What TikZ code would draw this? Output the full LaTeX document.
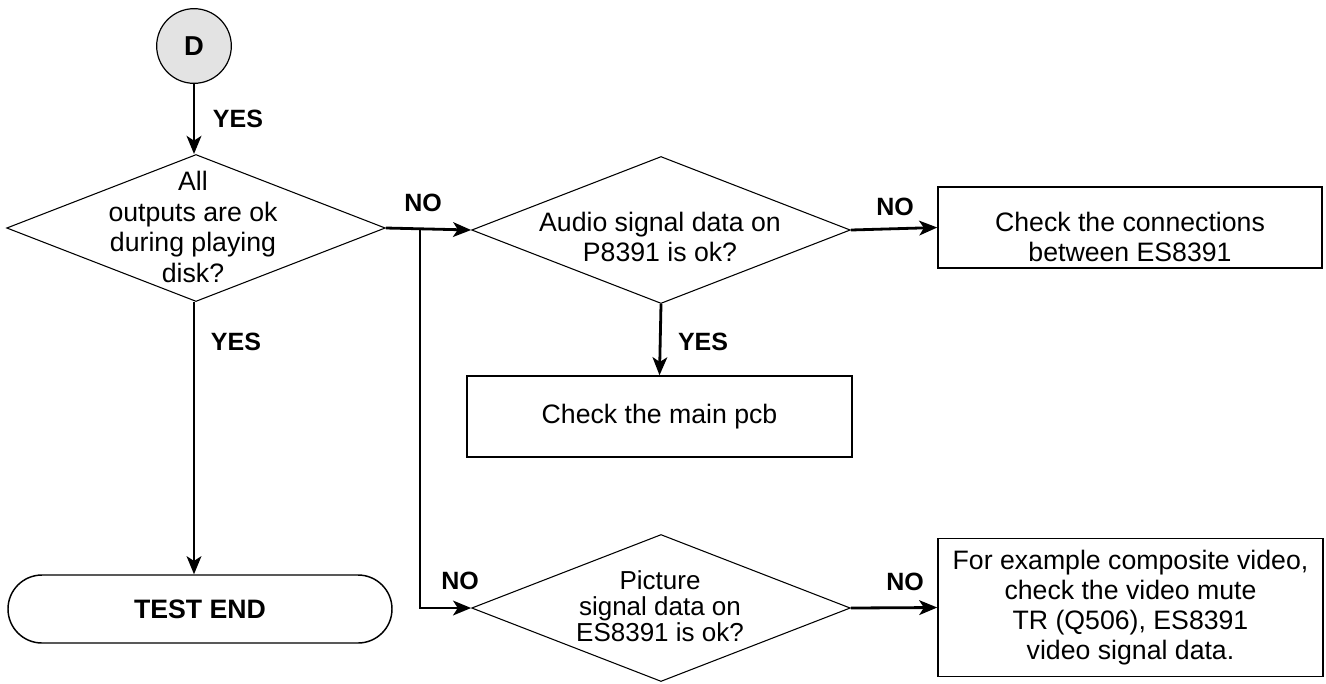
\documentclass[tikz,border=0pt]{standalone}
\usepackage{fontspec}
\setmainfont{Liberation Sans}
\usetikzlibrary{shapes.geometric,arrows.meta}
\tikzset{
  dec/.style={shape=diamond, draw, line width=0.8pt, inner sep=0pt, minimum width=284pt, minimum height=110.25pt},
  txt/.style={align=center, font=\fontsize{20}{23}\selectfont, inner sep=0pt},
  lbl/.style={font=\fontsize{18.75}{20}\selectfont\bfseries, inner sep=0pt},
  box/.style={draw, line width=1.1pt, inner sep=0pt, align=center, font=\fontsize{20}{22.5}\selectfont},
  conn/.style={line width=2.1pt, -{Stealth[length=13.5pt,width=11pt,inset=3.5pt]}},
}
\begin{document}
\begin{tikzpicture}[x=0.75pt,y=-0.75pt]
\useasboundingbox (0,0) rectangle (1326,683);
% start circle
\node[circle, draw, line width=0.9pt, fill=gray!22, minimum size=56pt, inner sep=0pt, font=\fontsize{20.5}{21}\selectfont\bfseries] (D) at (194,46) {D};
% decisions
\node[dec] (d1) at (196,228) {};
\node[txt] (t1) at (193,227) {All\\outputs are ok\\during playing\\disk?};
\node[dec] (d2) at (661,230) {};
\node[txt] (t2) at (660,237) {Audio signal data on\\P8391 is ok?};
\node[dec] (d3) at (661,608) {};
\node[txt, font=\fontsize{19.5}{19.5}\selectfont] (t3) at (660,606) {Picture\\signal data on\\ES8391 is ok?};
% terminal
\node[draw, line width=1.1pt, rounded corners=25.5pt, minimum width=288pt, minimum height=51pt, inner sep=0pt, font=\fontsize{20}{22}\selectfont\bfseries] (end) at (200,609) {TEST END};
% boxes
\node[box, minimum width=288pt, minimum height=60.75pt] (c1) at (1130,227.5) {};
\node[txt] (t4) at (1130,237) {Check the connections\\between ES8391};
\node[box, minimum width=288.75pt, minimum height=60.75pt] (pcb) at (659.5,416.5) {Check the main pcb};
\node[box, minimum width=288.75pt, minimum height=103.5pt] (ex) at (1130.5,607.5) {For example composite video,\\check the video mute\\TR (Q506), ES8391\\video signal data.};
% connectors
\coordinate (br) at (420,228);
\draw[conn] (D.south) -- (d1.north -| D.south);
\draw[conn] (d1.south -| D.south) -- (D.south |- end.north);
\draw[conn] (d1.east) -- (d2.west);
\draw[conn] (br) |- (d3.west);
\draw[conn] (d2.east) -- (c1.west);
\draw[conn] (d2.south) -- (pcb.north);
\draw[conn] (d3.east) -- (ex.west);
% labels
\node[lbl] (y1) at (238,119) {YES};
\node[lbl] (y2) at (236,342) {YES};
\node[lbl] (n1) at (423,203) {NO};
\node[lbl] (y3) at (703,342) {YES};
\node[lbl] (n2) at (895,207) {NO};
\node[lbl] (n3) at (460,581) {NO};
\node[lbl] (n4) at (905,582) {NO};
\end{tikzpicture}
\end{document}
